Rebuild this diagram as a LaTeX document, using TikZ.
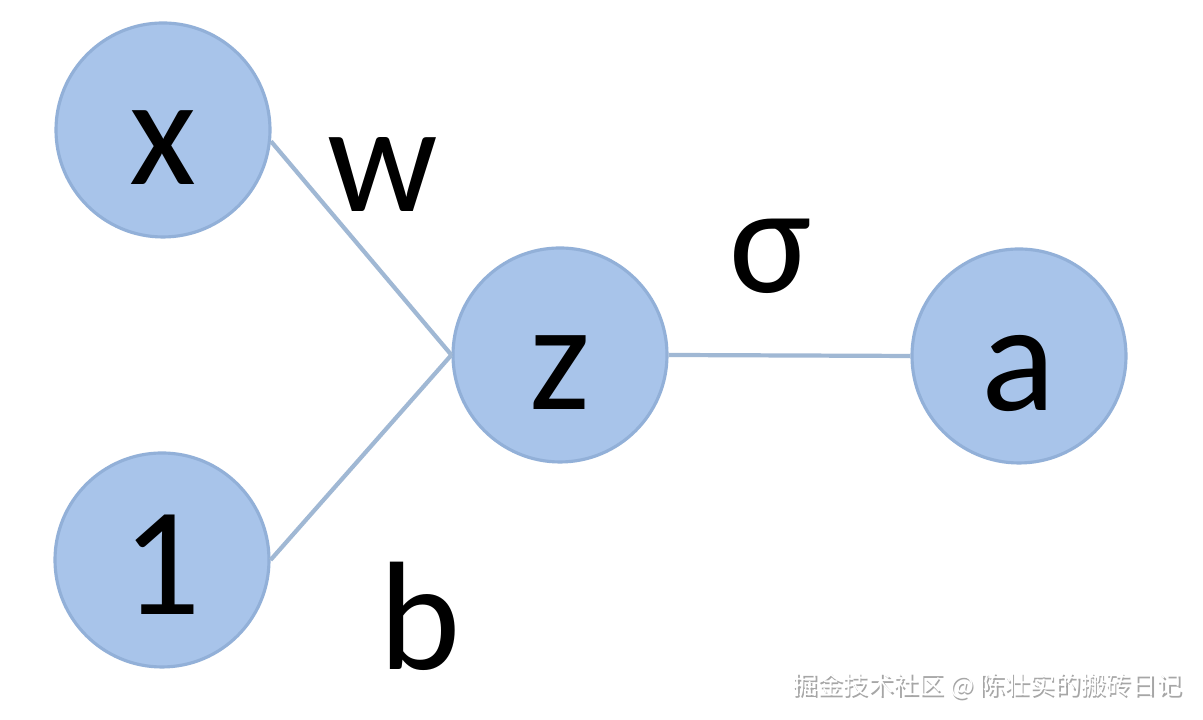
\documentclass[tikz,border=0pt]{standalone}
\usepackage{fontspec}
\setmainfont{Carlito}
\newfontfamily\cjkfont{Noto Sans CJK SC}
\definecolor{neuronfill}{RGB}{168,196,234}
\definecolor{neurondraw}{RGB}{146,176,216}
\definecolor{linkcolor}{RGB}{160,184,212}

\begin{document}
\begin{tikzpicture}[
	neuron/.style={circle,draw=neurondraw,line width=0.9pt,fill=neuronfill,
		minimum size=2.14cm,inner sep=0pt,font=\fontsize{44}{44}\selectfont,
		text height=31pt,text depth=0pt},
	link/.style={draw=linkcolor,line width=1.2pt},
	weight/.style={anchor=base,font=\fontsize{44}{44}\selectfont}]
	\useasboundingbox[fill=white] (0,0) rectangle (12.03,7.2);
	% the units
	\node[neuron] (x) at (1.63,5.90) {x};
	\node[neuron] (one) at (1.62,1.60) {1};
	\node[neuron] (z) at (5.60,3.65) {z};
	\node[neuron] (a) at (10.19,3.64) {a};
	% connections
	\draw[link] (x.-6) -- (z.west);
	\draw[link] (one.east) -- (z.west);
	\draw[link] (z.east) -- (a.west);
	% parameters
	\node[weight] (w) at (3.83,5.08) {w};
	\node[weight] (b) at (4.20,0.50) {b};
	\node[weight] (sigma) at (7.71,4.27) {σ};
	% watermark
	\node[anchor=east,inner sep=0pt,text=gray!70,font=\cjkfont\fontsize{7.2}{8}\selectfont] (markshadow) at (11.845,0.325) {掘金技术社区 @ 陈壮实的搬砖日记};
	\node[anchor=east,inner sep=0pt,text=white,font=\cjkfont\fontsize{7.2}{8}\selectfont] (mark) at (11.83,0.34) {掘金技术社区 @ 陈壮实的搬砖日记};
\end{tikzpicture}
\end{document}
